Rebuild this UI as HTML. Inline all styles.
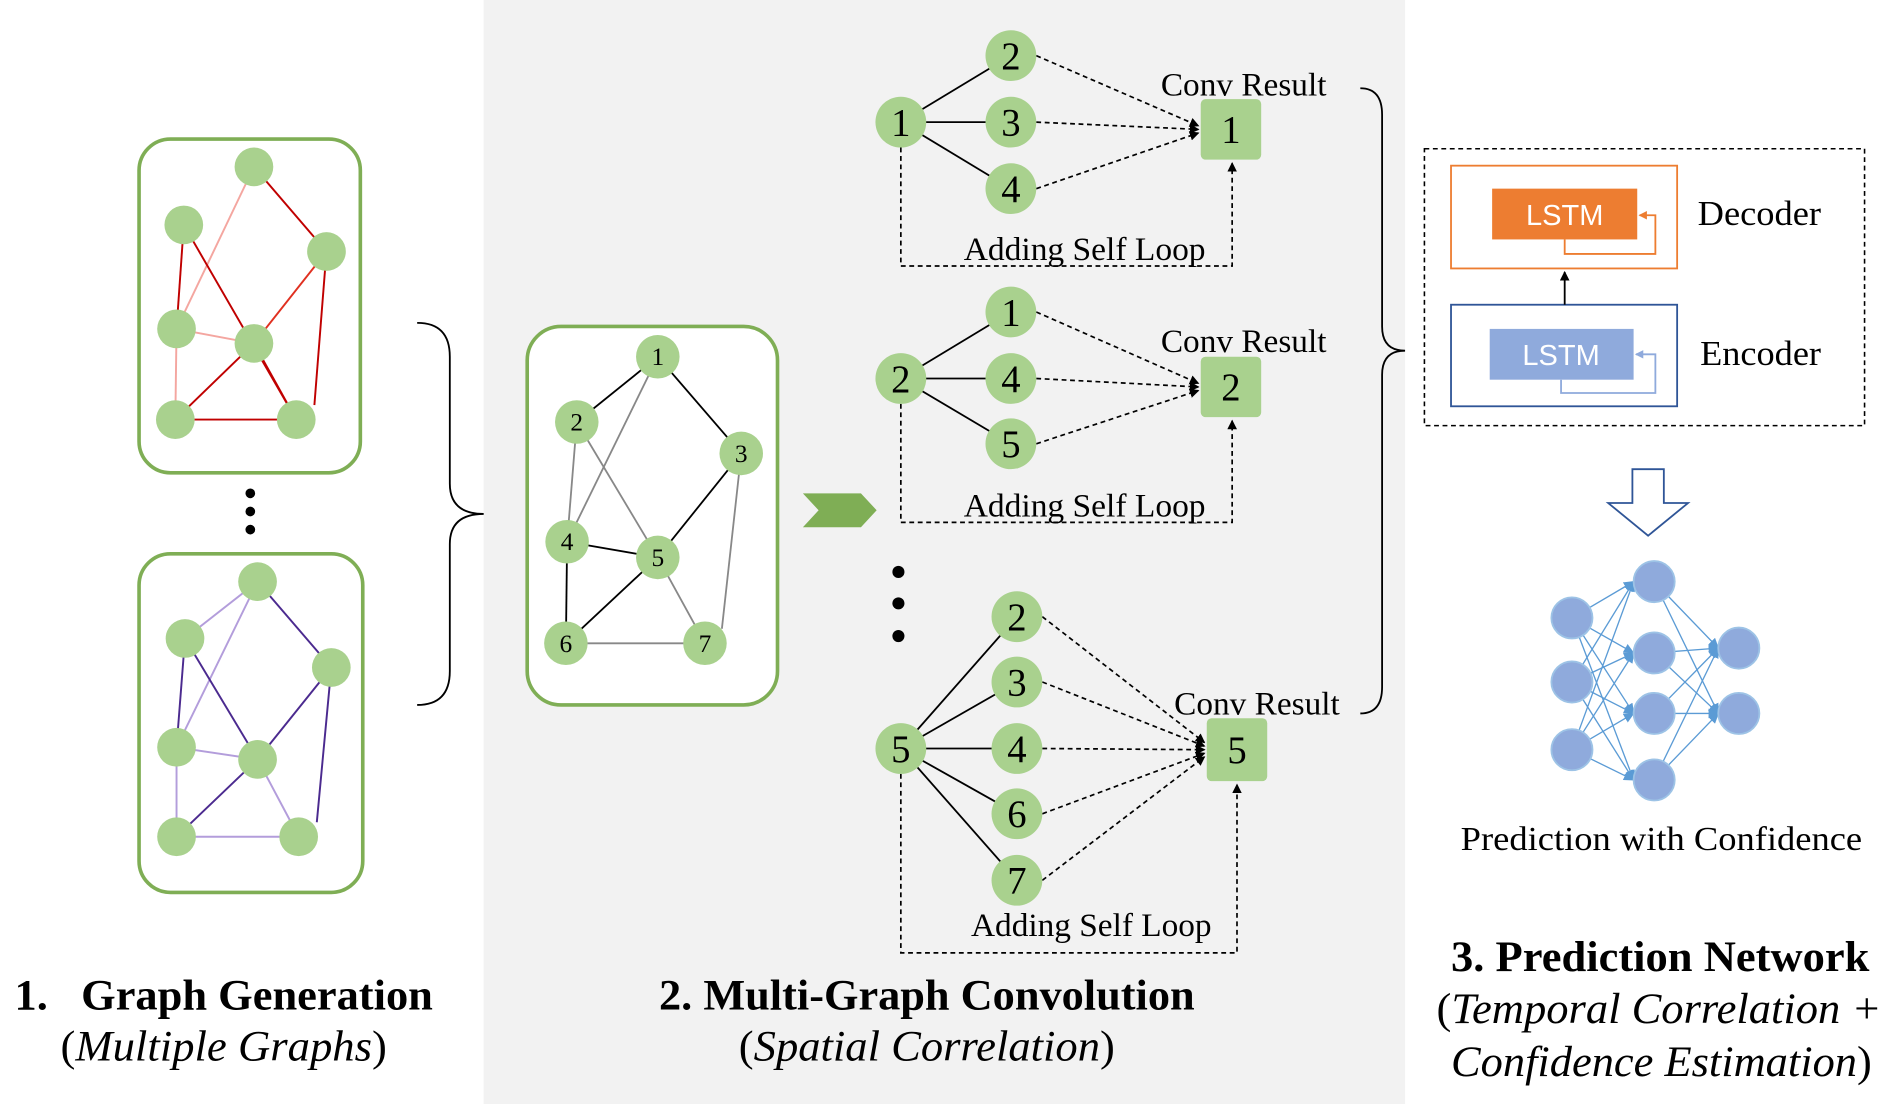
<!DOCTYPE html>
<html><head><meta charset="utf-8"><style>html,body{margin:0;padding:0;background:#fff}svg{display:block}</style></head><body>
<svg width="1896" height="1104" viewBox="0 0 1568 913" xmlns="http://www.w3.org/2000/svg" font-family="Liberation Serif, serif">
<defs>
<marker id="ah" markerWidth="8" markerHeight="8" refX="7" refY="4" orient="auto" markerUnits="userSpaceOnUse"><path d="M0,0 L8,4 L0,8 z" fill="#000"/></marker>
<marker id="ab" markerWidth="9" markerHeight="8" refX="8" refY="4" orient="auto" markerUnits="userSpaceOnUse"><path d="M0,0 L9,4 L0,8 z" fill="#5b9bd5"/></marker>
<marker id="ao" markerWidth="7" markerHeight="7" refX="6" refY="3.5" orient="auto" markerUnits="userSpaceOnUse"><path d="M0,0 L7,3.5 L0,7 z" fill="#ed7d31"/></marker>
<marker id="abl" markerWidth="7" markerHeight="7" refX="6" refY="3.5" orient="auto" markerUnits="userSpaceOnUse"><path d="M0,0 L7,3.5 L0,7 z" fill="#8faadc"/></marker>
</defs>
<rect x="400" y="0" width="762" height="913" fill="#f2f2f2"/>

<!-- left top graph -->
<rect x="115" y="115" width="183" height="276" rx="26" fill="#fff" stroke="#7fae55" stroke-width="3"/>
<g stroke-width="1.6">
<line x1="210" y1="138" x2="270" y2="208" stroke="#c00000"/>
<line x1="210" y1="138" x2="146" y2="272" stroke="#f4a6a0"/>
<line x1="152" y1="186" x2="146" y2="272" stroke="#c00000"/>
<line x1="152" y1="186" x2="245" y2="347" stroke="#c00000"/>
<line x1="270" y1="208" x2="210" y2="284" stroke="#e03020"/>
<line x1="270" y1="208" x2="260" y2="335" stroke="#c00000"/>
<line x1="146" y1="272" x2="210" y2="284" stroke="#f4a6a0"/>
<line x1="210" y1="284" x2="145" y2="347" stroke="#c00000"/>
<line x1="145" y1="347" x2="245" y2="347" stroke="#c00000"/>
<line x1="146" y1="272" x2="145" y2="347" stroke="#f4a6a0"/>
<line x1="210" y1="284" x2="245" y2="347" stroke="#c00000"/>
</g>
<g fill="#a9d18e"><circle cx="210" cy="138" r="16"/><circle cx="152" cy="186" r="16"/><circle cx="270" cy="208" r="16"/><circle cx="146" cy="272" r="16"/><circle cx="210" cy="284" r="16"/><circle cx="145" cy="347" r="16"/><circle cx="245" cy="347" r="16"/></g>
<g fill="#000"><circle cx="207" cy="408" r="4"/><circle cx="207" cy="423" r="4"/><circle cx="207" cy="438" r="4"/></g>

<!-- left bottom graph -->
<rect x="115" y="458" width="185" height="280" rx="26" fill="#fff" stroke="#7fae55" stroke-width="3"/>
<g stroke-width="1.6">
<line x1="213" y1="481" x2="274" y2="552" stroke="#4b2a8f"/>
<line x1="213" y1="481" x2="146" y2="618" stroke="#b39ddb"/>
<line x1="213" y1="481" x2="153" y2="528" stroke="#b39ddb"/>
<line x1="153" y1="528" x2="146" y2="618" stroke="#4b2a8f"/>
<line x1="153" y1="528" x2="213" y2="628" stroke="#4b2a8f"/>
<line x1="274" y1="552" x2="213" y2="628" stroke="#4b2a8f"/>
<line x1="274" y1="552" x2="262" y2="680" stroke="#4b2a8f"/>
<line x1="146" y1="618" x2="213" y2="628" stroke="#b39ddb"/>
<line x1="213" y1="628" x2="146" y2="692" stroke="#4b2a8f"/>
<line x1="146" y1="692" x2="247" y2="692" stroke="#b39ddb"/>
<line x1="146" y1="618" x2="146" y2="692" stroke="#b39ddb"/>
<line x1="213" y1="628" x2="247" y2="692" stroke="#b39ddb"/>
</g>
<g fill="#a9d18e"><circle cx="213" cy="481" r="16"/><circle cx="153" cy="528" r="16"/><circle cx="274" cy="552" r="16"/><circle cx="146" cy="618" r="16"/><circle cx="213" cy="628" r="16"/><circle cx="146" cy="692" r="16"/><circle cx="247" cy="692" r="16"/></g>

<!-- brace left -->
<path d="M345,267 Q372,267 372,295 L372,400 Q372,425 400,425 Q372,425 372,450 L372,555 Q372,583 345,583" fill="none" stroke="#000" stroke-width="1.5"/>

<!-- middle graph -->
<rect x="436" y="270" width="207" height="313" rx="28" fill="#fff" stroke="#7fae55" stroke-width="3"/>
<g stroke-width="1.5">
<line x1="544" y1="295" x2="477" y2="349" stroke="#000"/>
<line x1="544" y1="295" x2="613" y2="375" stroke="#000"/>
<line x1="544" y1="295" x2="469" y2="448" stroke="#888"/>
<line x1="477" y1="349" x2="469" y2="448" stroke="#888"/>
<line x1="477" y1="349" x2="544" y2="461" stroke="#888"/>
<line x1="613" y1="375" x2="544" y2="461" stroke="#000"/>
<line x1="613" y1="375" x2="597" y2="520" stroke="#888"/>
<line x1="469" y1="448" x2="544" y2="461" stroke="#000"/>
<line x1="469" y1="448" x2="468" y2="532" stroke="#000"/>
<line x1="544" y1="461" x2="468" y2="532" stroke="#000"/>
<line x1="544" y1="461" x2="583" y2="532" stroke="#888"/>
<line x1="468" y1="532" x2="583" y2="532" stroke="#888"/>
</g>
<g fill="#a9d18e"><circle cx="544" cy="295" r="18"/><circle cx="477" cy="349" r="18"/><circle cx="613" cy="375" r="18"/><circle cx="469" cy="448" r="18"/><circle cx="544" cy="461" r="18"/><circle cx="468" cy="532" r="18"/><circle cx="583" cy="532" r="18"/></g>
<g font-size="21" text-anchor="middle" fill="#000"><text x="544" y="302">1</text><text x="477" y="356">2</text><text x="613" y="382">3</text><text x="469" y="455">4</text><text x="544" y="468">5</text><text x="468" y="539">6</text><text x="583" y="539">7</text></g>

<!-- chevron -->
<polygon points="664,408 712,408 725,422 712,436 664,436 677,422" fill="#7fae55"/>

<!-- group 1 -->
<g stroke="#000" stroke-width="1.5">
<line x1="745" y1="101" x2="836" y2="46"/><line x1="745" y1="101" x2="836" y2="101"/><line x1="745" y1="101" x2="836" y2="156"/>
</g>
<g stroke="#000" stroke-width="1.4" stroke-dasharray="4,3" fill="none">
<line x1="857" y1="46" x2="991" y2="104" marker-end="url(#ah)"/><line x1="857" y1="101" x2="991" y2="107" marker-end="url(#ah)"/><line x1="857" y1="156" x2="991" y2="110" marker-end="url(#ah)"/>
<polyline points="745,122 745,220 1019,220 1019,135" marker-end="url(#ah)"/>
</g>
<rect x="993" y="82" width="50" height="50" rx="4" fill="#a9d18e"/>
<g fill="#a9d18e"><circle cx="745" cy="101" r="21"/><circle cx="836" cy="46" r="21"/><circle cx="836" cy="101" r="21"/><circle cx="836" cy="156" r="21"/></g>
<g font-size="32" text-anchor="middle"><text x="745" y="112">1</text><text x="836" y="57">2</text><text x="836" y="112">3</text><text x="836" y="167">4</text><text x="1018" y="118">1</text></g>
<text x="960" y="79" font-size="27" textLength="137" lengthAdjust="spacingAndGlyphs">Conv Result</text>
<text x="797" y="215" font-size="27" textLength="200" lengthAdjust="spacingAndGlyphs">Adding Self Loop</text>

<!-- group 2 -->
<g stroke="#000" stroke-width="1.5">
<line x1="745" y1="313" x2="836" y2="258"/><line x1="745" y1="313" x2="836" y2="313"/><line x1="745" y1="313" x2="836" y2="367"/>
</g>
<g stroke="#000" stroke-width="1.4" stroke-dasharray="4,3" fill="none">
<line x1="857" y1="258" x2="991" y2="317" marker-end="url(#ah)"/><line x1="857" y1="313" x2="991" y2="320" marker-end="url(#ah)"/><line x1="857" y1="367" x2="991" y2="323" marker-end="url(#ah)"/>
<polyline points="745,334 745,432 1019,432 1019,348" marker-end="url(#ah)"/>
</g>
<rect x="993" y="295" width="50" height="50" rx="4" fill="#a9d18e"/>
<g fill="#a9d18e"><circle cx="745" cy="313" r="21"/><circle cx="836" cy="258" r="21"/><circle cx="836" cy="313" r="21"/><circle cx="836" cy="367" r="21"/></g>
<g font-size="32" text-anchor="middle"><text x="745" y="324">2</text><text x="836" y="269">1</text><text x="836" y="324">4</text><text x="836" y="378">5</text><text x="1018" y="331">2</text></g>
<text x="960" y="291" font-size="27" textLength="137" lengthAdjust="spacingAndGlyphs">Conv Result</text>
<text x="797" y="427" font-size="27" textLength="200" lengthAdjust="spacingAndGlyphs">Adding Self Loop</text>

<g fill="#000"><circle cx="743" cy="473" r="5"/><circle cx="743" cy="499" r="5"/><circle cx="743" cy="526" r="5"/></g>

<!-- group 3 -->
<g stroke="#000" stroke-width="1.5">
<line x1="745" y1="619" x2="841" y2="510"/><line x1="745" y1="619" x2="841" y2="564"/><line x1="745" y1="619" x2="841" y2="619"/><line x1="745" y1="619" x2="841" y2="673"/><line x1="745" y1="619" x2="841" y2="728"/>
</g>
<g stroke="#000" stroke-width="1.4" stroke-dasharray="4,3" fill="none">
<line x1="862" y1="510" x2="996" y2="614" marker-end="url(#ah)"/><line x1="862" y1="564" x2="996" y2="617" marker-end="url(#ah)"/><line x1="862" y1="619" x2="996" y2="620" marker-end="url(#ah)"/><line x1="862" y1="673" x2="996" y2="623" marker-end="url(#ah)"/><line x1="862" y1="728" x2="996" y2="626" marker-end="url(#ah)"/>
<polyline points="745,640 745,788 1023,788 1023,649" marker-end="url(#ah)"/>
</g>
<rect x="998" y="594" width="50" height="52" rx="4" fill="#a9d18e"/>
<g fill="#a9d18e"><circle cx="745" cy="619" r="21"/><circle cx="841" cy="510" r="21"/><circle cx="841" cy="564" r="21"/><circle cx="841" cy="619" r="21"/><circle cx="841" cy="673" r="21"/><circle cx="841" cy="728" r="21"/></g>
<g font-size="32" text-anchor="middle"><text x="745" y="630">5</text><text x="841" y="521">2</text><text x="841" y="575">3</text><text x="841" y="630">4</text><text x="841" y="684">6</text><text x="841" y="739">7</text><text x="1023" y="631">5</text></g>
<text x="971" y="591" font-size="27" textLength="137" lengthAdjust="spacingAndGlyphs">Conv Result</text>
<text x="803" y="774" font-size="27" textLength="199" lengthAdjust="spacingAndGlyphs">Adding Self Loop</text>

<!-- right brace -->
<path d="M1125,73 Q1143,73 1143,95 L1143,270 Q1143,290 1162,290 Q1143,290 1143,310 L1143,568 Q1143,590 1125,590" fill="none" stroke="#000" stroke-width="1.5"/>

<!-- LSTM panel -->
<rect x="1178" y="123" width="364" height="229" fill="none" stroke="#000" stroke-width="1.3" stroke-dasharray="4,3"/>
<rect x="1200" y="137" width="187" height="85" fill="none" stroke="#ed7d31" stroke-width="1.5"/>
<rect x="1234" y="156" width="120" height="42" fill="#ed7d31"/>
<text x="1294" y="186" font-family="Liberation Sans, sans-serif" font-size="24" fill="#fff" text-anchor="middle">LSTM</text>
<polyline points="1294,198 1294,210 1369,210 1369,178 1356,178" fill="none" stroke="#ed7d31" stroke-width="1.5" marker-end="url(#ao)"/>
<text x="1404" y="186" font-size="29" textLength="102" lengthAdjust="spacingAndGlyphs">Decoder</text>
<rect x="1200" y="252" width="187" height="84" fill="none" stroke="#2f5597" stroke-width="1.5"/>
<rect x="1232" y="272" width="119" height="42" fill="#8faadc"/>
<text x="1291" y="302" font-family="Liberation Sans, sans-serif" font-size="24" fill="#fff" text-anchor="middle">LSTM</text>
<polyline points="1291,314 1291,325 1369,325 1369,293 1353,293" fill="none" stroke="#8faadc" stroke-width="1.5" marker-end="url(#abl)"/>
<text x="1406" y="302" font-size="29" textLength="100" lengthAdjust="spacingAndGlyphs">Encoder</text>
<line x1="1294" y1="252" x2="1294" y2="225" stroke="#000" stroke-width="1.5" marker-end="url(#ah)"/>

<!-- hollow arrow -->
<polygon points="1350,388 1376,388 1376,416 1396,416 1363,443 1330,416 1350,416" fill="#fff" stroke="#2f5597" stroke-width="1.5"/>

<!-- neural net -->
<g stroke="#5b9bd5" stroke-width="1.1">
<line x1="1300" y1="511" x2="1351" y2="481" marker-end="url(#ab)"/><line x1="1300" y1="511" x2="1351" y2="540" marker-end="url(#ab)"/><line x1="1300" y1="511" x2="1351" y2="590" marker-end="url(#ab)"/><line x1="1300" y1="511" x2="1351" y2="645" marker-end="url(#ab)"/>
<line x1="1300" y1="564" x2="1351" y2="481" marker-end="url(#ab)"/><line x1="1300" y1="564" x2="1351" y2="540" marker-end="url(#ab)"/><line x1="1300" y1="564" x2="1351" y2="590" marker-end="url(#ab)"/><line x1="1300" y1="564" x2="1351" y2="645" marker-end="url(#ab)"/>
<line x1="1300" y1="620" x2="1351" y2="481" marker-end="url(#ab)"/><line x1="1300" y1="620" x2="1351" y2="540" marker-end="url(#ab)"/><line x1="1300" y1="620" x2="1351" y2="590" marker-end="url(#ab)"/><line x1="1300" y1="620" x2="1351" y2="645" marker-end="url(#ab)"/>
<line x1="1368" y1="481" x2="1421" y2="536" marker-end="url(#ab)"/><line x1="1368" y1="481" x2="1421" y2="590" marker-end="url(#ab)"/>
<line x1="1368" y1="540" x2="1421" y2="536" marker-end="url(#ab)"/><line x1="1368" y1="540" x2="1421" y2="590" marker-end="url(#ab)"/>
<line x1="1368" y1="590" x2="1421" y2="536" marker-end="url(#ab)"/><line x1="1368" y1="590" x2="1421" y2="590" marker-end="url(#ab)"/>
<line x1="1368" y1="645" x2="1421" y2="536" marker-end="url(#ab)"/><line x1="1368" y1="645" x2="1421" y2="590" marker-end="url(#ab)"/>
</g>
<g fill="#8faadc" stroke="#9dc3e6" stroke-width="1.5">
<circle cx="1300" cy="511" r="17"/><circle cx="1300" cy="564" r="17"/><circle cx="1300" cy="620" r="17"/>
<circle cx="1368" cy="481" r="17"/><circle cx="1368" cy="540" r="17"/><circle cx="1368" cy="590" r="17"/><circle cx="1368" cy="645" r="17"/>
<circle cx="1438" cy="536" r="17"/><circle cx="1438" cy="590" r="17"/>
</g>
<text x="1208" y="703" font-size="28" textLength="332" lengthAdjust="spacingAndGlyphs">Prediction with Confidence</text>

<!-- titles -->
<text x="12" y="835" font-size="36" font-weight="bold" textLength="346" lengthAdjust="spacingAndGlyphs" xml:space="preserve">1.   Graph Generation</text>
<text x="50" y="877" font-size="36" textLength="270" lengthAdjust="spacingAndGlyphs">(<tspan font-style="italic">Multiple Graphs</tspan>)</text>
<text x="545" y="835" font-size="36" font-weight="bold" textLength="443" lengthAdjust="spacingAndGlyphs">2. Multi-Graph Convolution</text>
<text x="611" y="877" font-size="36" textLength="311" lengthAdjust="spacingAndGlyphs">(<tspan font-style="italic">Spatial Correlation</tspan>)</text>
<text x="1200" y="803" font-size="36" font-weight="bold" textLength="346" lengthAdjust="spacingAndGlyphs">3. Prediction Network</text>
<text x="1188" y="846" font-size="36" textLength="368" lengthAdjust="spacingAndGlyphs">(<tspan font-style="italic">Temporal Correlation +</tspan></text>
<text x="1200" y="890" font-size="36" textLength="348" lengthAdjust="spacingAndGlyphs"><tspan font-style="italic">Confidence Estimation</tspan>)</text>
</svg>
</body></html>
